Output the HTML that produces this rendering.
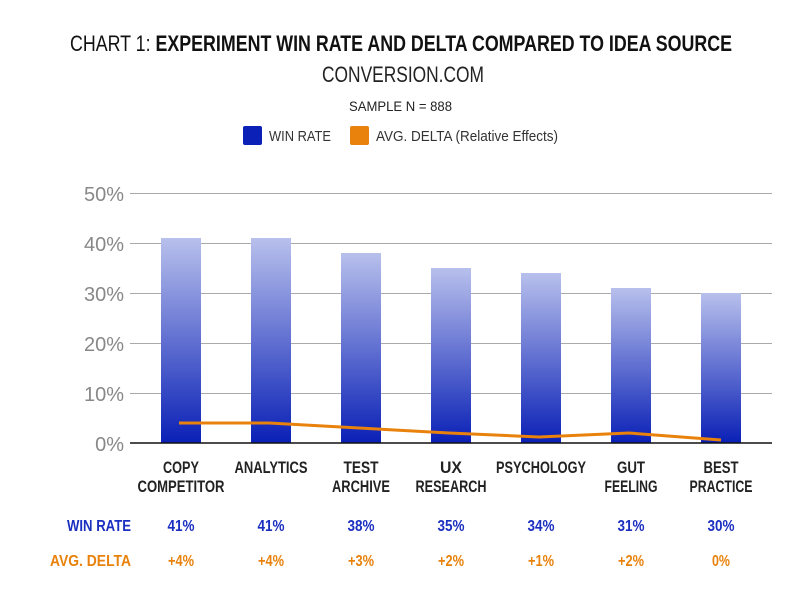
<!DOCTYPE html>
<html><head><meta charset="utf-8"><style>body{margin:0;background:#fff}svg{display:block}</style></head>
<body>
<svg width="800" height="600" xmlns="http://www.w3.org/2000/svg" font-family="'Liberation Sans', sans-serif">
<defs>
<linearGradient id="g" x1="0" y1="0" x2="0" y2="1">
<stop offset="0" stop-color="#b8c0ec"/><stop offset="1" stop-color="#0a20b6"/>
</linearGradient>
</defs>
<rect width="800" height="600" fill="#fff"/>
<text x="70" y="51" font-size="22" fill="#111" textLength="662" lengthAdjust="spacingAndGlyphs"><tspan>CHART 1: </tspan><tspan font-weight="bold">EXPERIMENT WIN RATE AND DELTA COMPARED TO IDEA SOURCE</tspan></text>
<text x="322" y="82" font-size="22" fill="#222" textLength="162" lengthAdjust="spacingAndGlyphs">CONVERSION.COM</text>
<text x="349" y="111" font-size="14" fill="#222" textLength="103" lengthAdjust="spacingAndGlyphs">SAMPLE N = 888</text>
<rect x="243" y="126" width="19" height="19" rx="2" fill="#0a20b6"/>
<text x="269" y="141" font-size="15" fill="#333" textLength="62" lengthAdjust="spacingAndGlyphs">WIN RATE</text>
<rect x="350" y="126" width="19" height="19" rx="2" fill="#e8820c"/>
<text x="376" y="141" font-size="15" fill="#333" textLength="182" lengthAdjust="spacingAndGlyphs">AVG. DELTA (Relative Effects)</text>
<g stroke="#aaa" stroke-width="1">
<line x1="130" y1="193.5" x2="772" y2="193.5"/><line x1="130" y1="243.5" x2="772" y2="243.5"/><line x1="130" y1="293.5" x2="772" y2="293.5"/><line x1="130" y1="343.5" x2="772" y2="343.5"/><line x1="130" y1="393.5" x2="772" y2="393.5"/>
</g>
<g font-size="20" fill="#888" text-anchor="end">
<text x="124" y="201">50%</text><text x="124" y="251">40%</text><text x="124" y="301">30%</text><text x="124" y="351">20%</text><text x="124" y="401">10%</text><text x="124" y="451">0%</text>
</g>
<g fill="url(#g)">
<rect x="161" y="238" width="40" height="205"/>
<rect x="251" y="238" width="40" height="205"/>
<rect x="341" y="253" width="40" height="190"/>
<rect x="431" y="268" width="40" height="175"/>
<rect x="521" y="273" width="40" height="170"/>
<rect x="611" y="288" width="40" height="155"/>
<rect x="701" y="293" width="40" height="150"/>
</g>
<line x1="130" y1="443" x2="772" y2="443" stroke="#111" stroke-width="1.5"/>
<polyline points="179,423 269,423 359,428 449,433 539,437 629,433 721,440" fill="none" stroke="#e8820c" stroke-width="3" stroke-linejoin="round"/>
<g font-size="17" font-weight="bold" fill="#222" text-anchor="middle">
<text x="181" y="473" textLength="36" lengthAdjust="spacingAndGlyphs">COPY</text><text x="181" y="492" textLength="87" lengthAdjust="spacingAndGlyphs">COMPETITOR</text>
<text x="271" y="473" textLength="73" lengthAdjust="spacingAndGlyphs">ANALYTICS</text>
<text x="361" y="473" textLength="35" lengthAdjust="spacingAndGlyphs">TEST</text><text x="361" y="492" textLength="58" lengthAdjust="spacingAndGlyphs">ARCHIVE</text>
<text x="451" y="473" textLength="22" lengthAdjust="spacingAndGlyphs">UX</text><text x="451" y="492" textLength="71" lengthAdjust="spacingAndGlyphs">RESEARCH</text>
<text x="541" y="473" textLength="90" lengthAdjust="spacingAndGlyphs">PSYCHOLOGY</text>
<text x="631" y="473" textLength="28" lengthAdjust="spacingAndGlyphs">GUT</text><text x="631" y="492" textLength="53" lengthAdjust="spacingAndGlyphs">FEELING</text>
<text x="721" y="473" textLength="35" lengthAdjust="spacingAndGlyphs">BEST</text><text x="721" y="492" textLength="63" lengthAdjust="spacingAndGlyphs">PRACTICE</text>
</g>
<g font-size="16" font-weight="bold" fill="#1a2fc0" text-anchor="middle">
<text x="131" y="531" text-anchor="end" textLength="64" lengthAdjust="spacingAndGlyphs">WIN RATE</text>
<text x="181" y="531" textLength="27" lengthAdjust="spacingAndGlyphs">41%</text><text x="271" y="531" textLength="27" lengthAdjust="spacingAndGlyphs">41%</text><text x="361" y="531" textLength="27" lengthAdjust="spacingAndGlyphs">38%</text><text x="451" y="531" textLength="27" lengthAdjust="spacingAndGlyphs">35%</text><text x="541" y="531" textLength="27" lengthAdjust="spacingAndGlyphs">34%</text><text x="631" y="531" textLength="27" lengthAdjust="spacingAndGlyphs">31%</text><text x="721" y="531" textLength="27" lengthAdjust="spacingAndGlyphs">30%</text>
</g>
<g font-size="16" font-weight="bold" fill="#e8820c" text-anchor="middle">
<text x="131" y="566" text-anchor="end" textLength="81" lengthAdjust="spacingAndGlyphs">AVG. DELTA</text>
<text x="181" y="566" textLength="26" lengthAdjust="spacingAndGlyphs">+4%</text><text x="271" y="566" textLength="26" lengthAdjust="spacingAndGlyphs">+4%</text><text x="361" y="566" textLength="26" lengthAdjust="spacingAndGlyphs">+3%</text><text x="451" y="566" textLength="26" lengthAdjust="spacingAndGlyphs">+2%</text><text x="541" y="566" textLength="26" lengthAdjust="spacingAndGlyphs">+1%</text><text x="631" y="566" textLength="26" lengthAdjust="spacingAndGlyphs">+2%</text><text x="721" y="566" textLength="18" lengthAdjust="spacingAndGlyphs">0%</text>
</g>
</svg>
</body></html>
